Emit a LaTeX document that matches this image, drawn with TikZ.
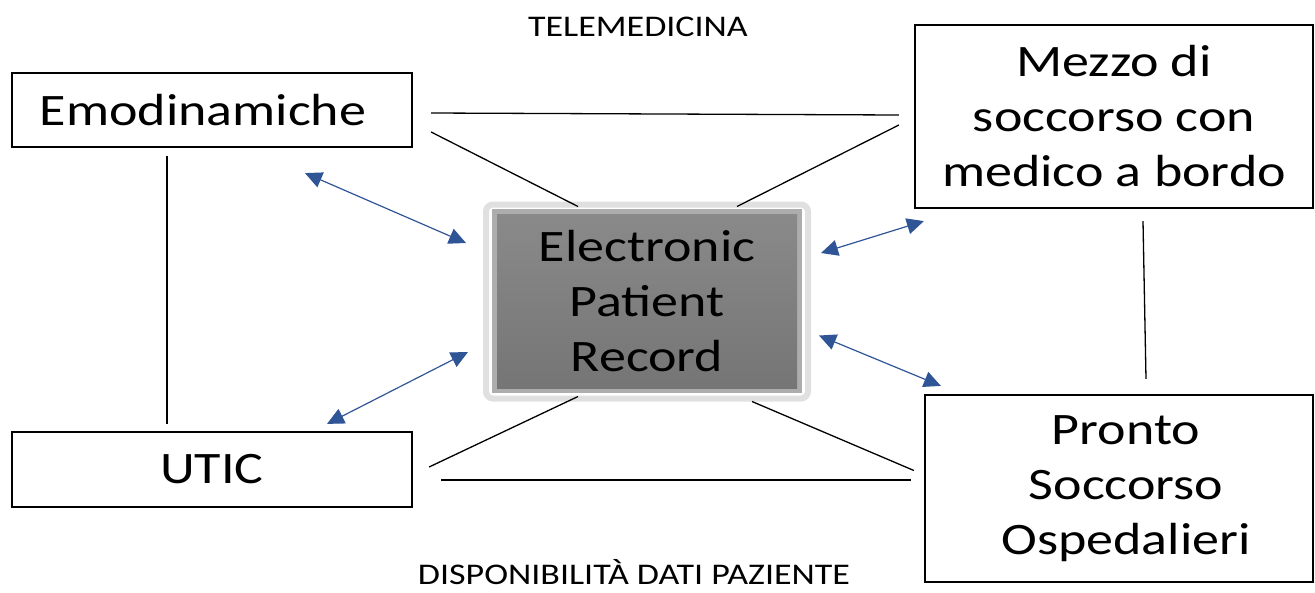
\documentclass[tikz,border=0pt]{standalone}
\usepackage{fontspec}
\setmainfont{Carlito}[FakeStretch=1.2]
\usetikzlibrary{arrows.meta}
\definecolor{linkblue}{RGB}{47,85,151}

\begin{document}
\begin{tikzpicture}[x=1pt,y=-1pt,
  box/.style={draw, line width=2.2pt, inner sep=0pt, align=center,
              font=\fontsize{45}{55}\selectfont},
  link/.style={line width=1.3pt},
  dato/.style={draw=linkblue, line width=1.2pt, <->,
               >={Triangle[width=16pt,length=17pt]}}]

\useasboundingbox (0,0) rectangle (1315,592);

% i quattro nodi esterni
\node[box, minimum width=400pt, minimum height=74pt] (emo) at (212,110) {Emodinamiche\hspace*{18pt}};
\node[box, minimum width=398pt, minimum height=183pt] (mezzo) at (1114,116.5) {Mezzo di\\soccorso con\\medico a bordo};
\node[box, minimum width=400pt, minimum height=75pt] (utic) at (212,469.5) {UTIC};
\node[box, minimum width=388pt, minimum height=187pt] (pronto) at (1119,488.5) {\hspace*{14pt}Pronto\\\hspace*{14pt}Soccorso\\\hspace*{14pt}Ospedalieri};

% il record al centro
\node[draw=black!12, line width=6pt, fill=white, rounded corners=7pt,
      minimum width=322pt, minimum height=194pt] (epr) at (647,301.5) {};
\fill[black!32] (492,209) rectangle (802,393);
\shade[top color=black!46, bottom color=black!54] (497,214) rectangle (797,388);
\node[align=center, font=\fontsize{45}{55}\selectfont] (eprtxt) at (epr) {Electronic\\Patient\\Record};

\node[inner sep=0pt] (tele) at (638,27) {\fontsize{30}{32}\selectfont TELEMEDICINA};
\node[inner sep=0pt] (disp) at (634,572) {\fontsize{30}{32}\selectfont DISPONIBILITÀ DATI PAZIENTE};

% collegamenti
\draw[link] ([shift={(18,3)}]emo.east) -- ([shift={(-15,-1.5)}]mezzo.west);
\draw[link] ([shift={(18,22)}]emo.east) -- ([shift={(-69,5)}]epr.north);
\draw[link] ([shift={(-15,8.5)}]mezzo.west) -- ([shift={(90,5)}]epr.north);
\draw[link] ([shift={(-45,8)}]emo.south) -- ([shift={(-45,-7)}]utic.north);
\draw[link] ([shift={(29,12)}]mezzo.south) -- ([shift={(27,-15)}]pronto.north);
\draw[link] ([shift={(16,-2.5)}]utic.east) -- ([shift={(-69,-5)}]epr.south);
\draw[link] ([shift={(105,0)}]epr.south) -- ([shift={(-10,-18)}]pronto.west);
\draw[link] ([shift={(28,10.5)}]utic.east) -- ([shift={(-13,-8.5)}]pronto.west);

% frecce blu
\draw[dato] ([shift={(93,25)}]emo.south) -- ([shift={(-17,-58.5)}]epr.west);
\draw[dato] ([shift={(115,-7)}]utic.north) -- ([shift={(-15,50.5)}]epr.west);
\draw[dato] ([shift={(10,-48.5)}]epr.east) -- ([shift={(10,12)}]mezzo.south west);
\draw[dato] ([shift={(8,34)}]epr.east) -- ([shift={(17,-8)}]pronto.north west);

\end{tikzpicture}
\end{document}
